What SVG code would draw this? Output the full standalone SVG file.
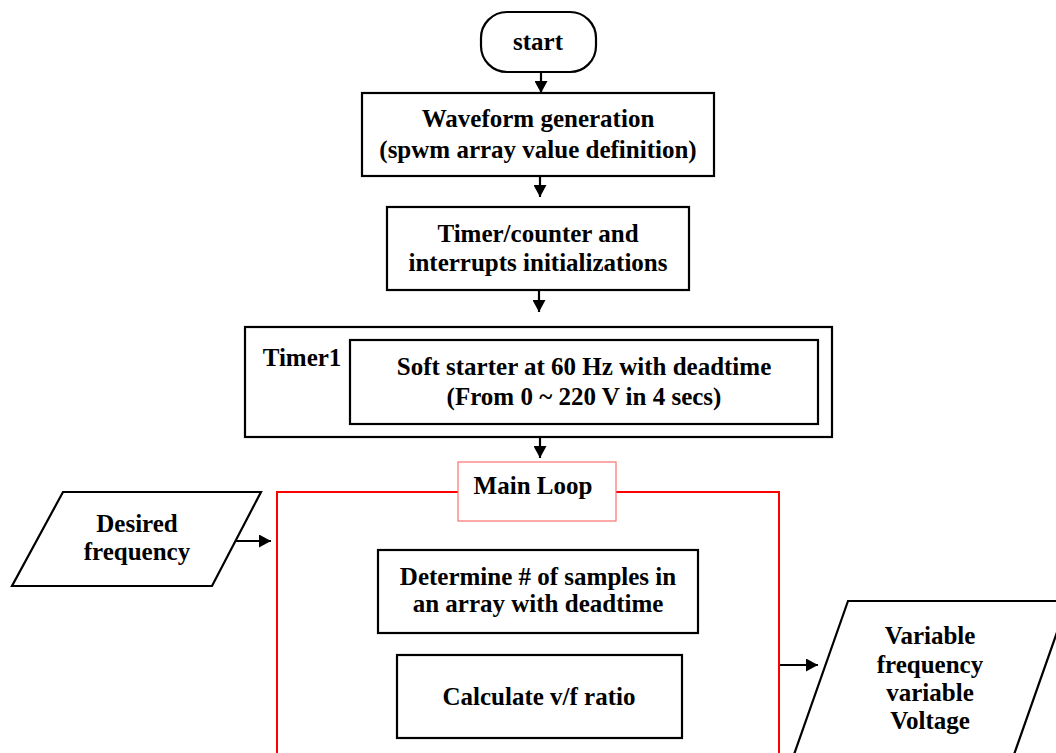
<svg xmlns="http://www.w3.org/2000/svg" width="1056" height="753" viewBox="0 0 1056 753">
<style>
.box{fill:#fff;stroke:#000;stroke-width:2.2}
.t{font-family:"Liberation Serif","Times New Roman",serif;font-weight:bold;font-size:25px;fill:#000;text-anchor:middle}
.conn{stroke:#000;stroke-width:2.2;fill:none;marker-end:url(#ah)}
</style>
<defs>
<marker id="ah" markerUnits="userSpaceOnUse" markerWidth="13" markerHeight="13" refX="12" refY="6.5" orient="auto">
<path d="M0,0 L12,6.5 L0,13 z" fill="#000"/>
</marker>
</defs>
<rect width="1056" height="753" fill="#fff"/>
<g id="main-loop-frame">
<rect x="277" y="492" width="502" height="320" fill="none" stroke="#ff0000" stroke-width="2"/>
</g>
<g id="start">
<rect class="box" x="481" y="12" width="115" height="60" rx="26" ry="26"/>
<text class="t" x="538" y="50">start</text>
</g>
<g id="waveform">
<rect class="box" x="362" y="93" width="352" height="83"/>
<text class="t" x="538" y="127">Waveform generation</text>
<text class="t" x="538" y="158">(spwm array value definition)</text>
</g>
<g id="timer-init">
<rect class="box" x="387" y="207" width="302" height="83"/>
<text class="t" x="538" y="242">Timer/counter and</text>
<text class="t" x="538" y="271">interrupts initializations</text>
</g>
<g id="timer1">
<rect class="box" x="245" y="327" width="587" height="110"/>
<text class="t" x="302" y="366">Timer1</text>
</g>
<g id="soft-starter">
<rect class="box" x="350" y="340" width="468" height="84"/>
<text class="t" x="584" y="375">Soft starter at 60 Hz with deadtime</text>
<text class="t" x="584" y="405">(From 0 ~ 220 V in 4 secs)</text>
</g>
<g id="main-loop">
<rect x="458" y="462" width="158" height="59" fill="#fff" stroke="#ff7070" stroke-width="1.2"/>
<text class="t" x="533" y="494">Main Loop</text>
</g>
<g id="desired-frequency">
<polygon class="box" points="63,492 261,492 212,586 12,586"/>
<text class="t" x="137" y="532">Desired</text>
<text class="t" x="137" y="560">frequency</text>
</g>
<g id="determine">
<rect class="box" x="378" y="550" width="320" height="83"/>
<text class="t" x="538" y="585">Determine # of samples in</text>
<text class="t" x="538" y="612">an array with deadtime</text>
</g>
<g id="calculate">
<rect class="box" x="397" y="655" width="285" height="83"/>
<text class="t" x="539" y="705">Calculate v/f ratio</text>
</g>
<g id="variable-output">
<polygon class="box" points="848,601 1068,601 998,800 778,800"/>
<text class="t" x="930" y="644">Variable</text>
<text class="t" x="930" y="673">frequency</text>
<text class="t" x="930" y="701">variable</text>
<text class="t" x="930" y="729">Voltage</text>
</g>
<g id="connectors">
<path class="conn" d="M541,72 L541,93"/>
<path class="conn" d="M540,176 L540,197"/>
<path class="conn" d="M539,290 L539,312"/>
<path class="conn" d="M540,437 L540,458"/>
<path class="conn" d="M236,541 L271,541"/>
<path class="conn" d="M780,665 L818,665"/>
</g>
</svg>
